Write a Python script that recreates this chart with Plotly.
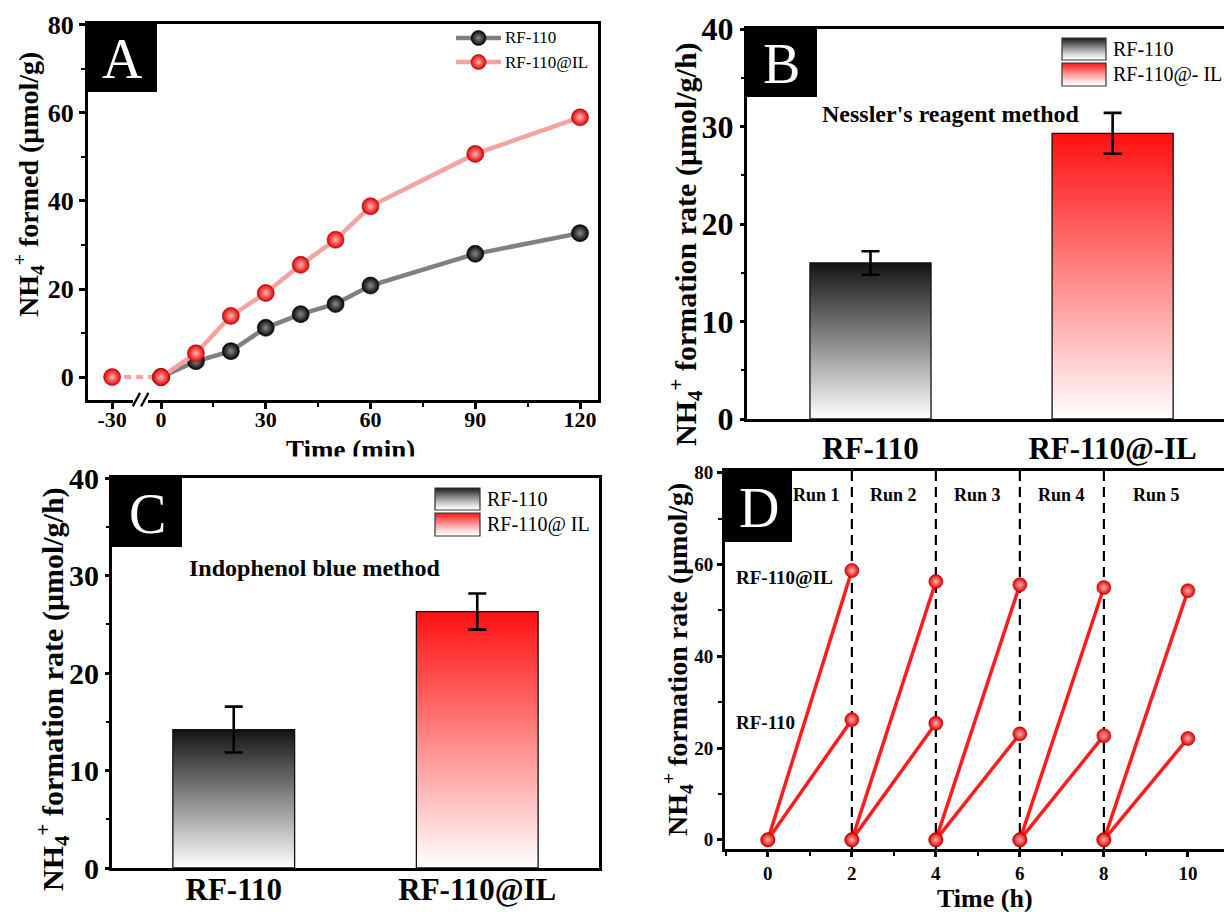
import plotly.graph_objects as go

W, H = 1224, 912
FONT = "Liberation Serif, Times New Roman, Times, serif"

# ---------------- data ----------------
# (A) NH4+ formed vs. time; the dark period (-30..0 min) sits on a compressed, broken axis
A_TIME_MIN = [0, 10, 20, 30, 40, 50, 60, 90, 120]
A_RF110 = [0, 3.6, 5.9, 11.2, 14.3, 16.6, 20.8, 28.0, 32.7]
A_RF110_IL = [0, 5.4, 13.9, 19.1, 25.5, 31.2, 38.8, 50.7, 59.0]
A_DARK_TIME_MIN = [-30, 0]
A_DARK_RF110_IL = [0, 0]
A_TICKS_MIN = [-30, 0, 30, 60, 90, 120]
A_MINOR_TICKS_MIN = [15, 45, 75, 105]

# (B) Nessler's reagent method
B_CATEGORIES = ["RF-110", "RF-110@-IL"]
B_RATE = [16.0, 29.3]
B_ERR = [1.2, 2.1]

# (C) Indophenol blue method
C_CATEGORIES = ["RF-110", "RF-110@IL"]
C_RATE = [14.2, 26.3]
C_ERR = [2.35, 1.85]

# (D) cycling runs
D_RUN_START_H = [0, 2, 4, 6, 8]
D_RUN_END_H = [2, 4, 6, 8, 10]
D_RF110_IL = [58.7, 56.3, 55.6, 55.0, 54.3]
D_RF110 = [26.2, 25.4, 23.1, 22.7, 22.1]
D_RUN_LABELS = ["Run 1", "Run 2", "Run 3", "Run 4", "Run 5"]

# ---------------- layout helpers ----------------
DARK_SCALE = 14.0 / 30.0  # compression of the dark-period segment on axis A


def a_x(t):
    return t if t >= 0 else t * DARK_SCALE


def dom_x(left, right):
    return [left / W, right / W]


def dom_y(top, bottom):
    return [1 - bottom / H, 1 - top / H]


def px(x):
    return x / W


def py(y):
    return 1 - y / H


def oy(y):
    # overlay axis y (pixel from top -> upward coordinate)
    return H - y


def mix(c0, c1, f):
    a = [int(c0[i:i + 2], 16) for i in (1, 3, 5)]
    b = [int(c1[i:i + 2], 16) for i in (1, 3, 5)]
    return "rgb(%d,%d,%d)" % tuple(round(a[k] + (b[k] - a[k]) * f) for k in range(3))


PANEL_A = (88, 598, 24, 400)
PANEL_B = (747, 1224, 29, 419)
PANEL_C = (112, 599, 478, 868)
PANEL_D = (725, 1224, 471, 849)

GRAY_LINE = "#808080"
PINK_LINE = "#f4a3a3"
RED = "#ff1c1c"
BAR_W = 0.5
BAR_TOPS = ["#141414", "#ff1010"]
N_SLICES = 90


def sphere(color, center, size, edge):
    return dict(color=color, size=size, gradient=dict(type="radial", color=center),
                line=dict(color=edge, width=0.6))


RED_SPHERE = lambda s: sphere("#e30000", "#ffb3b3", s, "#a00000")
BLACK_SPHERE = lambda s: sphere("#050505", "#8a8a8a", s, "#000000")


def base_axis(tsize, **kw):
    d = dict(showline=True, linewidth=3, linecolor="black", mirror=True,
             ticks="outside", ticklen=6, tickwidth=2.5, tickcolor="black",
             showgrid=False, zeroline=False, fixedrange=True, automargin=False,
             tickfont=dict(family=FONT, size=tsize, color="black", weight="bold"))
    d.update(kw)
    return d


def gradient_bars(values, xa, ya):
    # each bar is a stack of thin slices fading from white (base) to its top colour
    xs, ys, bases, cols = [], [], [], []
    for i, v in enumerate(values):
        step = v / N_SLICES
        for k in range(N_SLICES):
            lo = k * step
            hi = min((k + 1.6) * step, v)
            xs.append(i)
            bases.append(lo)
            ys.append(hi - lo)
            cols.append(mix("#ffffff", BAR_TOPS[i], (k + 0.5) / N_SLICES))
    fill = go.Bar(x=xs, y=ys, base=bases, width=BAR_W,
                  marker=dict(color=cols, line=dict(width=0)),
                  xaxis=xa, yaxis=ya, hoverinfo="skip", showlegend=False)
    outline = go.Bar(x=list(range(len(values))), y=values, width=BAR_W,
                     marker=dict(color="rgba(0,0,0,0)", line=dict(color="#111111", width=1.3)),
                     xaxis=xa, yaxis=ya, hoverinfo="skip", showlegend=False)
    return [fill, outline]


def error_trace(values, errs, xa, ya):
    return go.Scatter(
        x=list(range(len(values))), y=values, mode="markers",
        marker=dict(size=1, color="rgba(0,0,0,0)"),
        error_y=dict(type="data", array=errs, color="black", thickness=2.6, width=9),
        xaxis=xa, yaxis=ya, hoverinfo="skip", showlegend=False)


fig = go.Figure()

# ---------------- panel A ----------------
fig.add_trace(go.Scatter(
    x=[a_x(t) for t in A_TIME_MIN], y=A_RF110, mode="lines+markers",
    line=dict(color=GRAY_LINE, width=4.5), marker=BLACK_SPHERE(17),
    xaxis="x", yaxis="y", showlegend=False))
fig.add_trace(go.Scatter(
    x=[a_x(t) for t in A_DARK_TIME_MIN], y=A_DARK_RF110_IL, mode="lines+markers",
    line=dict(color=PINK_LINE, width=4, dash="7px,5px"), marker=RED_SPHERE(17),
    xaxis="x", yaxis="y", showlegend=False))
fig.add_trace(go.Scatter(
    x=[a_x(t) for t in A_TIME_MIN], y=A_RF110_IL, mode="lines+markers",
    line=dict(color=PINK_LINE, width=4.5), marker=RED_SPHERE(17),
    xaxis="x", yaxis="y", showlegend=False))

# ---------------- panels B and C ----------------
fig.add_traces(gradient_bars(B_RATE, "x2", "y2"))
fig.add_trace(error_trace(B_RATE, B_ERR, "x2", "y2"))
fig.add_traces(gradient_bars(C_RATE, "x3", "y3"))
fig.add_trace(error_trace(C_RATE, C_ERR, "x3", "y3"))

# ---------------- panel D ----------------
for series in (D_RF110_IL, D_RF110):
    xs, ys = [], []
    for s, e, v in zip(D_RUN_START_H, D_RUN_END_H, series):
        xs += [s, e, None]
        ys += [0, v, None]
    fig.add_trace(go.Scatter(
        x=xs, y=ys, mode="lines+markers", line=dict(color=RED, width=3.5),
        marker=RED_SPHERE(14), xaxis="x4", yaxis="y4", showlegend=False,
        connectgaps=False))

# ---------------- legend glyphs for panel A (overlay axes in pixel units) ----------------
LEG_A_ROWS = [(38, GRAY_LINE, BLACK_SPHERE(15), "RF-110"),
              (62, PINK_LINE, RED_SPHERE(15), "RF-110@IL")]
for y, lc, mk, _ in LEG_A_ROWS:
    fig.add_trace(go.Scatter(x=[456, 501], y=[oy(y), oy(y)], mode="lines",
                             line=dict(color=lc, width=4.5), xaxis="x5", yaxis="y5",
                             hoverinfo="skip", showlegend=False))
    fig.add_trace(go.Scatter(x=[478.5], y=[oy(y)], mode="markers", marker=mk,
                             xaxis="x5", yaxis="y5", hoverinfo="skip", showlegend=False))

# ---------------- axes ----------------
layout = dict(
    width=W, height=H, margin=dict(l=0, r=0, t=0, b=0, autoexpand=False),
    paper_bgcolor="white", plot_bgcolor="rgba(0,0,0,0)", showlegend=False,
    barmode="overlay", font=dict(family=FONT, color="black"),
)

layout["xaxis"] = base_axis(
    22, domain=dom_x(*PANEL_A[:2]), anchor="y",
    range=[(PANEL_A[0] - 161) / 3.4917, (PANEL_A[1] - 161) / 3.4917],
    tickmode="array", tickvals=[a_x(t) for t in A_TICKS_MIN],
    ticktext=[str(t) for t in A_TICKS_MIN], ticklabelstandoff=-8,
    minor=dict(tickmode="array", tickvals=A_MINOR_TICKS_MIN, ticks="outside",
               ticklen=4, tickwidth=2, tickcolor="black"))
layout["yaxis"] = base_axis(
    26, domain=dom_y(*PANEL_A[2:]), anchor="x", range=[-5.2, 80.2],
    tickmode="linear", tick0=0, dtick=20,
    minor=dict(dtick=10, ticks="outside", ticklen=4, tickwidth=2, tickcolor="black"))

layout["xaxis2"] = base_axis(
    31, domain=dom_x(*PANEL_B[:2]), anchor="y2", range=[-0.51, 1.46],
    tickmode="array", tickvals=[0, 1], ticktext=B_CATEGORIES, ticks="",
    ticklabelstandoff=0)
layout["yaxis2"] = base_axis(
    32, domain=dom_y(*PANEL_B[2:]), anchor="x2", range=[0, 40], mirror=False,
    tickmode="linear", tick0=0, dtick=10, ticklen=4,
    minor=dict(dtick=5, ticks="outside", ticklen=3, tickwidth=2, tickcolor="black"))

layout["xaxis3"] = base_axis(
    31, domain=dom_x(*PANEL_C[:2]), anchor="y3", range=[-0.5, 1.5],
    tickmode="array", tickvals=[0, 1], ticktext=C_CATEGORIES, ticks="",
    ticklabelstandoff=-8)
layout["yaxis3"] = base_axis(
    30, domain=dom_y(*PANEL_C[2:]), anchor="x3", range=[0, 40],
    tickmode="linear", tick0=0, dtick=10, ticklen=4,
    minor=dict(dtick=5, ticks="outside", ticklen=3, tickwidth=2, tickcolor="black"))

layout["xaxis4"] = base_axis(
    19, domain=dom_x(*PANEL_D[:2]), anchor="y4", range=[-1.02, 10.86],
    tickmode="linear", tick0=0, dtick=2, ticklen=5,
    minor=dict(dtick=1, ticks="outside", ticklen=4, tickwidth=2, tickcolor="black"))
layout["yaxis4"] = base_axis(
    19, domain=dom_y(*PANEL_D[2:]), anchor="x4", range=[-2, 80.4], mirror=False,
    tickmode="linear", tick0=0, dtick=20, ticklen=5,
    minor=dict(dtick=10, ticks="outside", ticklen=4, tickwidth=2, tickcolor="black"))

layout["xaxis5"] = dict(domain=[0, 1], range=[0, W], visible=False, fixedrange=True,
                        anchor="y5", automargin=False)
layout["yaxis5"] = dict(domain=[0, 1], range=[0, H], visible=False, fixedrange=True,
                        anchor="x5", automargin=False)

# ---------------- shapes ----------------
shapes = []
# panel letter tiles
TILES = [("A", 88, 157, 24, 92), ("B", 747, 817, 29, 97),
         ("C", 112, 182, 478, 547), ("D", 725, 792, 471, 542)]
for _, x0, x1, y0, y1 in TILES:
    shapes.append(dict(type="rect", xref="paper", yref="paper", x0=px(x0), x1=px(x1),
                       y0=py(y1), y1=py(y0), fillcolor="black", line=dict(width=0),
                       layer="above"))

# gradient swatches for the bar legends
LEG_B = [(38, 60, "#1e1e1e", "RF-110"), (63, 86, "#ff1a1a", "RF-110@- IL")]
LEG_C = [(488, 510, "#1e1e1e", "RF-110"), (513, 536, "#ff1a1a", "RF-110@ IL")]
for x0, x1, rows in ((1062, 1106, LEG_B), (435, 480, LEG_C)):
    for top, bot, col, _ in rows:
        n = bot - top
        for k in range(n):
            f = 1 - k / (n - 1)
            shapes.append(dict(type="rect", xref="paper", yref="paper",
                               x0=px(x0), x1=px(x1), y0=py(top + k + 1.5), y1=py(top + k),
                               fillcolor=mix("#ffffff", col, f ** 1.2), line=dict(width=0),
                               layer="above"))
        shapes.append(dict(type="rect", xref="paper", yref="paper",
                           x0=px(x0), x1=px(x1), y0=py(bot), y1=py(top),
                           fillcolor="rgba(0,0,0,0)", line=dict(color="#333333", width=1.2),
                           layer="above"))

# axis break on panel A
shapes.append(dict(type="rect", xref="x", yref="y domain", x0=-8.0, x1=-3.7,
                   y0=-0.012, y1=0.012, fillcolor="white", line=dict(width=0), layer="above"))
for xa, xb in ((-8.1, -6.0), (-5.7, -3.6)):
    shapes.append(dict(type="line", xref="x", yref="y domain", x0=xa, x1=xb,
                       y0=-0.017, y1=0.019, line=dict(color="black", width=2.2),
                       layer="above"))

# run separators on panel D
for e in D_RUN_END_H[:-1]:
    shapes.append(dict(type="line", xref="x4", yref="y4 domain", x0=e, x1=e, y0=0, y1=1,
                       line=dict(color="black", width=2.2, dash="10px,6px"), layer="below"))
layout["shapes"] = shapes

# ---------------- annotations ----------------
ann = []


def text(x, y, s, size, bold=True, color="black", xanchor="center", yanchor="middle",
         angle=0, xref="paper", yref="paper"):
    ann.append(dict(x=x, y=y, xref=xref, yref=yref, text=s, showarrow=False,
                    xanchor=xanchor, yanchor=yanchor, textangle=angle,
                    font=dict(family=FONT, size=size, color=color,
                              weight="bold" if bold else "normal")))


for letter, x0, x1, y0, y1 in TILES:
    text(px((x0 + x1) / 2), py((y0 + y1) / 2 + 1), letter, 56, bold=False, color="white")

# axis titles
text(px(28), py(185), "NH<sub>4</sub><sup>+</sup> formed (μmol/g)", 28, angle=-90)
text(px(350), py(450), "Time (min)", 27)
# the panel below trims the lower edge of the time caption
ann.append(dict(x=px(350), y=py(463.5), xref="paper", yref="paper", text=" ",
                showarrow=False, width=230, height=12, bgcolor="white",
                xanchor="center", yanchor="middle"))
text(px(685), py(244), "NH<sub>4</sub><sup>+</sup> formation rate (μmol/g/h)", 30, angle=-90)
text(px(52), py(689), "NH<sub>4</sub><sup>+</sup> formation rate (μmol/g/h)", 30, angle=-90)
text(px(677), py(660), "NH<sub>4</sub><sup>+</sup> formation rate (μmol/g)", 28, angle=-90)
text(px(985), py(898), "Time (h)", 26)

# method captions
text(px(950), py(114), "Nessler's reagent method", 24)
text(px(314), py(568), "Indophenol blue method", 24)

# legend labels
for y, _, _, s in LEG_A_ROWS:
    text(px(503), py(y), s, 17, bold=False, xanchor="left")
for top, bot, _, s in LEG_B:
    text(px(1111), py((top + bot) / 2), s, 20, bold=False, xanchor="left")
for top, bot, _, s in LEG_C:
    text(px(485), py((top + bot) / 2), s, 20, bold=False, xanchor="left")

# panel D labels
D_RUN_LABEL_X = [1.15, 3.0, 5.0, 7.0, 9.25]
for xr, lab in zip(D_RUN_LABEL_X, D_RUN_LABELS):
    text(xr, 75.2, lab, 18, xref="x4", yref="y4")
text(-0.81, D_RF110_IL[0] - 1.6, "RF-110@IL", 19, xanchor="left", xref="x4", yref="y4")
text(-0.81, D_RF110[0] - 0.7, "RF-110", 19, xanchor="left", xref="x4", yref="y4")

layout["annotations"] = ann
fig.update_layout(**layout)

fig.write_html("out.html")
